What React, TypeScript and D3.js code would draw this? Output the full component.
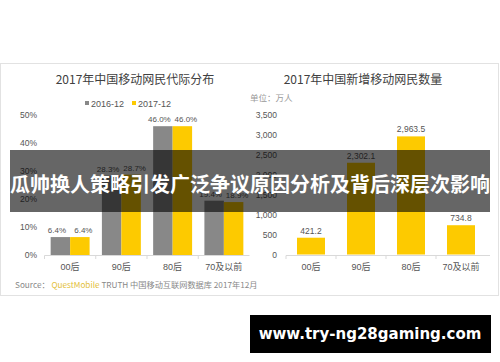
import React from "react";
import * as d3 from "d3";

const W = 500;
const H = 362;

const categories = ["00后", "90后", "80后", "70及以前"];
const series2016 = [6.4, 28.3, 46.0, 19.4];
const series2017 = [6.4, 28.7, 46.0, 18.9];
const seriesNames = ["2016-12", "2017-12"];
const pctTicks = [0, 10, 20, 30, 40, 50];

const newUsers = [421.2, 2302.1, 2963.5, 734.8];
const userTicks = [0, 500, 1000, 1500, 2000, 2500, 3000, 3500];

const leftTitle = "2017年中国移动网民代际分布";
const rightTitle = "2017年中国新增移动网民数量";
const unitLabel = "单位：万人";
const bannerText = "瓜帅换人策略引发广泛争议原因分析及背后深层次影响";
const watermark = "www.try-ng28gaming.com";

const GRAY = "#888888";
const YELLOW = "#fdca00";
const TEXT = "#555555";
const FONT = "'Liberation Sans', Arial, 'Noto Sans CJK SC', sans-serif";
const CJK = "'Noto Sans CJK SC', 'Liberation Sans', sans-serif";

export default function App() {
  // left chart scales
  const xL = d3.scaleBand<string>().domain(categories).range([44.5, 249.5]).paddingInner(0.24).paddingOuter(0.12);
  const xLInner = d3.scaleBand<string>().domain(seriesNames).range([0, xL.bandwidth()]);
  const yL = d3.scaleLinear().domain([0, 50]).range([255, 115]);

  // right chart scales
  const xR = d3.scaleBand<string>().domain(categories).range([286, 486]).paddingInner(0.44).paddingOuter(0.22);
  const yR = d3.scaleLinear().domain([0, 3500]).range([254.5, 115]);

  const fmtPct = (v: number) => d3.format(".1f")(v) + "%";
  const fmtNum = d3.format(",.1f");
  const fmtTick = d3.format(",");

  const leftSeries = [series2016, series2017];
  const colors = [GRAY, YELLOW];
  const labelShift = [-3.5, 3.5];

  return (
    <svg width={W} height={H} style={{ position: "absolute", left: 0, top: 0, background: "#fff" }}>
      <rect x={0} y={0} width={W} height={H} fill="#fff" />
      {/* panel frame */}
      <rect x={0.5} y={63.5} width={498} height={232} fill="#fff" stroke="#e2e2e2" />

      {/* titles */}
      <text x={135} y={84} textAnchor="middle" fontFamily={CJK} fontSize={12} fill="#404040">{leftTitle}</text>
      <text x={363} y={84} textAnchor="middle" fontFamily={CJK} fontSize={12} fill="#404040">{rightTitle}</text>

      {/* legend */}
      {seriesNames.map((s, i) => {
        const x0 = i === 0 ? 85 : 132;
        return (
          <g key={s}>
            <rect x={x0} y={101} width={4} height={4} fill={colors[i]} />
            <text x={x0 + 6} y={106.5} fontFamily={FONT} fontSize={9} fill={TEXT}>{s}</text>
          </g>
        );
      })}

      {/* left y axis labels */}
      {pctTicks.map((t) => (
        <text key={t} x={37} y={yL(t) + 3} textAnchor="end" fontFamily={FONT} fontSize={8.5} fill={TEXT}>{t + "%"}</text>
      ))}
      {/* left x axis */}
      <line x1={44.5} x2={249.5} y1={255.5} y2={255.5} stroke="#d9d9d9" />
      {categories.map((c) => (
        <line key={c} x1={(xL(c) as number) - xL.step() * 0.12} x2={(xL(c) as number) - xL.step() * 0.12} y1={255.5} y2={259} stroke="#d9d9d9" />
      ))}
      {/* left bars */}
      {leftSeries.map((vals, si) =>
        vals.map((v, ci) => {
          const c = categories[ci];
          const x = (xL(c) as number) + (xLInner(seriesNames[si]) as number);
          const w = xLInner.bandwidth();
          return (
            <g key={si + "-" + ci}>
              <rect x={x} y={yL(v)} width={w} height={yL(0) - yL(v)} fill={colors[si]} />
              <text x={x + w / 2 + labelShift[si]} y={yL(v) - 4} textAnchor="middle" fontFamily={FONT} fontSize={8} fill={TEXT}>{fmtPct(v)}</text>
            </g>
          );
        })
      )}
      {categories.map((c) => (
        <text key={c} x={(xL(c) as number) + xL.bandwidth() / 2} y={270} textAnchor="middle" fontFamily={FONT} fontSize={9} fill={TEXT}>{c}</text>
      ))}

      {/* right unit */}
      <text x={250} y={101} fontFamily={CJK} fontSize={8.5} fill="#999">{unitLabel}</text>
      {/* right y axis labels */}
      {userTicks.map((t) => (
        <text key={t} x={277} y={yR(t) + 3} textAnchor="end" fontFamily={FONT} fontSize={8.5} fill={TEXT}>{fmtTick(t)}</text>
      ))}
      <line x1={286} x2={490} y1={255.5} y2={255.5} stroke="#d9d9d9" />
      {categories.map((c) => (
        <line key={c} x1={(xR(c) as number) - xR.step() * 0.22} x2={(xR(c) as number) - xR.step() * 0.22} y1={255.5} y2={259} stroke="#d9d9d9" />
      ))}
      {newUsers.map((v, i) => {
        const c = categories[i];
        const x = xR(c) as number;
        const w = xR.bandwidth();
        return (
          <g key={c}>
            <rect x={x} y={yR(v)} width={w} height={yR(0) - yR(v)} fill={YELLOW} />
            <text x={x + w / 2} y={yR(v) - 4} textAnchor="middle" fontFamily={FONT} fontSize={8.5} fill={TEXT}>{fmtNum(v)}</text>
          </g>
        );
      })}
      {categories.map((c) => (
        <text key={c} x={(xR(c) as number) + xR.bandwidth() / 2} y={270} textAnchor="middle" fontFamily={FONT} fontSize={9} fill={TEXT}>{c}</text>
      ))}

      {/* source */}
      <text x={15} y={288} fontFamily={CJK} fontSize={8.2} fill="#888">
        <tspan>Source： </tspan>
        <tspan fill="#e3c03a">QuestMobile</tspan>
        <tspan> TRUTH 中国移动互联网数据库 2017年12月</tspan>
      </text>

      {/* banner overlay */}
      <rect x={10} y={150} width={480} height={62} fill="#000" opacity={0.6} />
      <text x={250} y={192} textAnchor="middle" fontFamily={CJK} fontWeight="bold" fontSize={20} fill="#fff">{bannerText}</text>

      {/* watermark */}
      <rect x={250} y={315} width={241} height={38} fill="#000" />
      <text x={370} y={339} textAnchor="middle" fontFamily="'DejaVu Sans', sans-serif" fontWeight="bold" fontSize={15} fill="#fff">{watermark}</text>
    </svg>
  );
}
